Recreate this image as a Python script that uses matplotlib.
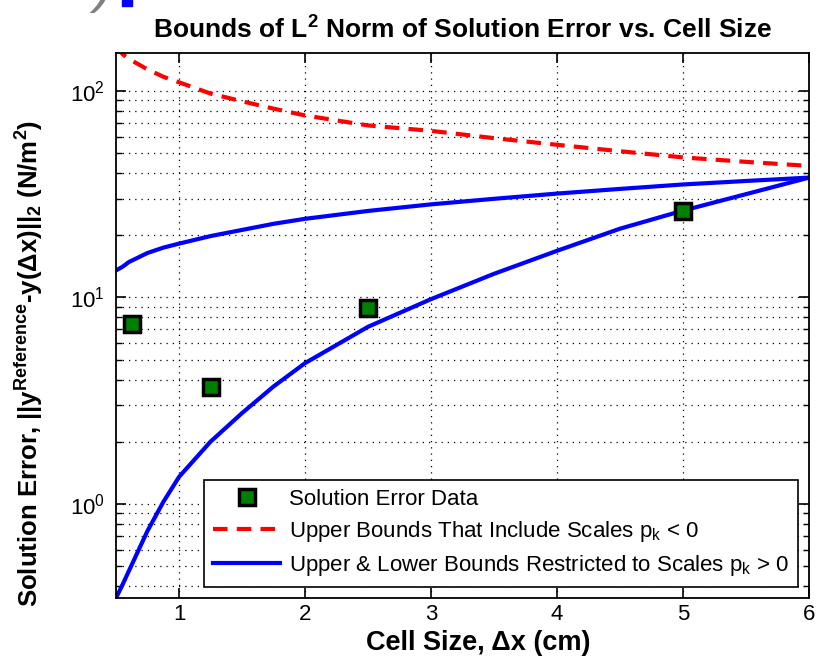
import matplotlib
matplotlib.use("Agg")
import matplotlib.pyplot as plt
from matplotlib.ticker import LogLocator, NullFormatter

plt.rcParams["font.family"] = ["Liberation Sans", "DejaVu Sans"]
plt.rcParams["mathtext.fontset"] = "custom"
plt.rcParams["mathtext.rm"] = "Liberation Sans"
plt.rcParams["mathtext.bf"] = "Liberation Sans:bold"
plt.rcParams["mathtext.it"] = "Liberation Sans:italic"

# solution error data
dx_data = [0.625, 1.25, 2.5, 5.0]
err_data = [7.45, 3.7, 8.9, 26.2]

# bounds
dx_curve = [0.5, 0.555, 0.6, 0.75, 0.875, 1.0, 1.25, 1.5, 1.75, 2.0, 2.5, 3.0,
            3.5, 4.0, 4.5, 5.0, 5.5, 6.0]
upper_neg = [165, 150, 143, 127, 117, 110, 97, 89, 82, 76, 68, 64,
             59, 54.8, 51, 47.6, 45.3, 43.3]
upper_pos = [13.5, 14.1, 14.8, 16.4, 17.4, 18.2, 19.8, 21.2, 22.7, 24.0, 26.2, 28.2,
             30.0, 31.8, 33.5, 35.2, 36.6, 38.0]
lower_pos = [0.35, 0.41, 0.47, 0.74, 1.02, 1.35, 2.0, 2.75, 3.7, 4.8, 7.2, 9.8,
             13.0, 16.8, 21.5, 26.3, 31.6, 38.0]

fig = plt.figure(figsize=(8.21, 6.57), dpi=100)
ax = fig.add_axes([0.1413, 0.0898, 0.8441, 0.8300])

ax.semilogy(dx_data, err_data, "s", ms=11, mfc="#008000", mec="black", mew=2.5,
            label="Solution Error Data", zorder=5)
ax.semilogy(dx_curve, upper_neg, "--", color="red", lw=3, dashes=(3.5, 2.2),
            label="Upper Bounds That Include Scales p$_\\mathrm{k}$ < 0")
ax.semilogy(dx_curve, upper_pos, "-", color="blue", lw=3,
            label="Upper & Lower Bounds Restricted to Scales p$_\\mathrm{k}$ > 0")
ax.semilogy(dx_curve, lower_pos, "-", color="blue", lw=3)

ax.set_xlim(0.5, 6)
ax.set_ylim(0.35, 153)
ax.set_xticks([1, 2, 3, 4, 5, 6])
ax.yaxis.set_major_locator(LogLocator(base=10))
ax.yaxis.set_minor_locator(LogLocator(base=10, subs=range(2, 10)))
ax.yaxis.set_minor_formatter(NullFormatter())

ax.grid(True, which="major", axis="both", color="black", ls=(0, (1, 4)), lw=0.9)
ax.grid(True, which="minor", axis="y", color="black", ls=(0, (1, 4)), lw=0.9)
ax.tick_params(which="both", direction="in", top=True, right=True, labelsize=16)
ax.tick_params(which="major", length=7, width=1.2, pad=8)
ax.tick_params(axis="x", which="major", pad=4)
ax.tick_params(which="minor", length=4, width=1)
for s in ax.spines.values():
    s.set_linewidth(1.3)

ax.set_title("Bounds of L$^\\mathbf{2}$ Norm of Solution Error vs. Cell Size",
             fontsize=19, fontweight="bold", pad=10)
ax.set_xlabel("Cell Size, Δx (cm)", fontsize=19.5, fontweight="bold")
ax.xaxis.set_label_coords(0.523, -0.058)
ax.set_ylabel("Solution Error, ||y$^\\mathbf{Reference}$-y(Δx)||$_\\mathbf{2}$ (N/m$^\\mathbf{2}$)",
              fontsize=18.5, fontweight="bold")
ax.yaxis.set_label_coords(-0.102, 0.43)

leg = ax.legend(loc="lower right", fontsize=16, handlelength=3.0, labelspacing=0.4,
                handletextpad=0.4, borderpad=0.4, fancybox=False, framealpha=1,
                edgecolor="black", borderaxespad=0.5)
leg.get_frame().set_linewidth(1.2)

# leftover slide text at the top edge
fig.text(0.005, 1.035, "\u201d", fontsize=60, color="#808080", style="italic",
         va="center", ha="left")
fig.text(0.115, 1.02, ")", fontsize=40, color="#808080", style="italic",
         va="center", ha="left")
fig.patches.append(plt.Rectangle((0.1487, 0.991), 0.0122, 0.009, color="blue",
                                 transform=fig.transFigure, figure=fig))

fig.savefig("out.png", dpi=100)
